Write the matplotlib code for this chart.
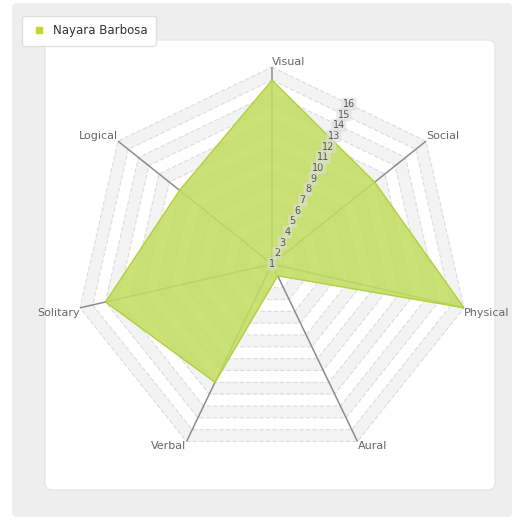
import numpy as np
import matplotlib
matplotlib.use("Agg")
import matplotlib.pyplot as plt
from matplotlib.patches import FancyBboxPatch
from matplotlib.lines import Line2D

# данные
categories = ["Visual", "Social", "Physical", "Aural", "Verbal", "Solitary", "Logical"]
values = [15, 11, 16, 2, 11, 14, 10]
series_name = "Nayara Barbosa"
ticks = list(range(1, 17))

n = len(categories)
angles = np.linspace(0, 2 * np.pi, n, endpoint=False)
closed = np.append(angles, angles[0])

W, H = 518, 522
fig = plt.figure(figsize=(W / 100, H / 100), dpi=100)
fig.patch.set_facecolor("white")

# фоновые панели
fig.patches.append(FancyBboxPatch((12 / W, 5 / H), 500 / W, 514 / H,
                                  boxstyle="round,pad=0,rounding_size=0.01",
                                  transform=fig.transFigure, facecolor="#eeeeee",
                                  edgecolor="none", zorder=-10))
fig.patches.append(FancyBboxPatch((45 / W, 32 / H), 450 / W, 450 / H,
                                  boxstyle="round,pad=0,rounding_size=0.015",
                                  transform=fig.transFigure, facecolor="white",
                                  edgecolor="#e4e4e4", linewidth=0.8, zorder=-9))

cx, cy, R = 272, 264, 197
ax = fig.add_axes([(cx - R) / W, (H - cy - R) / H, 2 * R / W, 2 * R / H], projection="polar")
ax.set_theta_zero_location("N")
ax.set_theta_direction(-1)
ax.set_ylim(ticks[0], ticks[-1])
ax.patch.set_alpha(0)
ax.grid(False)
ax.spines["polar"].set_visible(False)
ax.set_xticks([])
ax.set_yticks([])

# полосы сетки
for i in range(len(ticks) - 1, 0, -1):
    r_out = ticks[i]
    r_in = ticks[i - 1]
    if (len(ticks) - 1 - i) % 2 == 0:
        ax.fill(np.concatenate([closed, closed[::-1]]),
                np.concatenate([np.full(n + 1, r_out), np.full(n + 1, r_in)]),
                color="#f3f3f3", lw=0, zorder=1)
for t in ticks[1:]:
    ax.plot(closed, np.full(n + 1, t), color="#dcdcdc", lw=0.8, ls=(0, (4, 2)), zorder=2)

# оси
for a in angles:
    ax.plot([a, a], [ticks[0], ticks[-1]], color="#8c8c8c", lw=1.1, zorder=3)

# данные
vals = np.append(values, values[0])
ax.fill(closed, vals, color="#c2dd62", alpha=0.88, zorder=4, lw=0)
ax.plot(closed, vals, color="#b3cf3e", lw=1, zorder=5)

# подписи шкалы
ta = np.pi / n
for t in ticks:
    r = ticks[0] + np.cos(ta) * (t - ticks[0])
    ax.text(ta, r, str(t), fontsize=7, color="#555555", ha="center", va="center", zorder=6,
            bbox=dict(boxstyle="round,pad=0.15", fc="#dedede", ec="none", alpha=0.6))

# подписи осей
for a, name in zip(angles, categories):
    s, c = np.sin(a), np.cos(a)
    ha = "left" if s >= -0.01 else "right"
    va = "bottom" if c > 0.3 else "top"
    ax.text(a, ticks[-1], name, fontsize=8, color="#666666", ha=ha, va=va,
            clip_on=False, zorder=6)

# легенда
handle = Line2D([], [], marker="s", ls="none", color="#c3d82e", markersize=5)
leg = fig.legend([handle], [series_name], loc="upper left",
                 bbox_to_anchor=(22 / W, 1 - 16 / H), fontsize=8.5,
                 frameon=True, fancybox=True, handlelength=1.4, handletextpad=0.5,
                 borderpad=0.7, borderaxespad=0)
leg.get_frame().set_edgecolor("#e0e0e0")
leg.get_frame().set_facecolor("white")
leg.get_frame().set_alpha(1)
for txt in leg.get_texts():
    txt.set_color("#333333")

fig.savefig("out.png", dpi=100)
